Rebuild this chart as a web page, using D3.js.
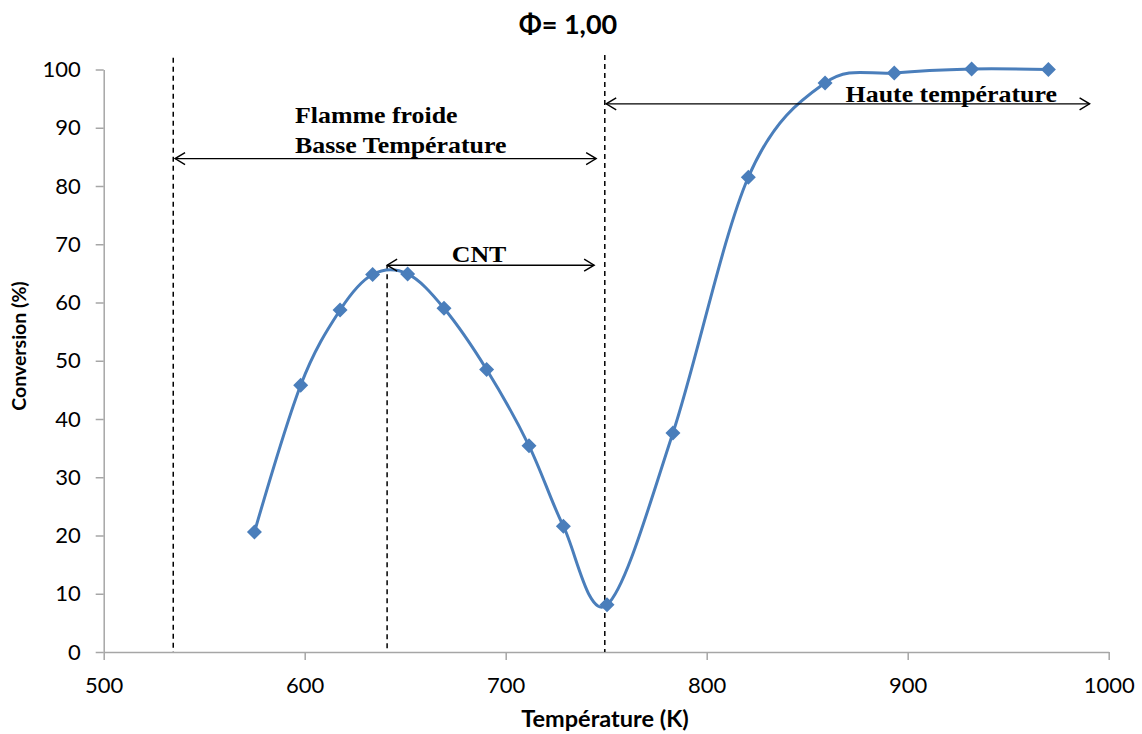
<!DOCTYPE html>
<html>
<head>
<meta charset="utf-8">
<script src="https://cdn.jsdelivr.net/npm/d3@7"></script>
<style>
  body { margin: 0; background: #fff; }
  svg { display: block; }
</style>
</head>
<body>
<svg id="chart" width="1142" height="734"></svg>
<script>
// data
var temperature = [575, 598, 617.6, 633.8, 651.2, 669.3, 690.5, 711.6, 728.7, 750.4, 783.2, 820.7, 858.9, 893.3, 931.8, 970];
var conversion = [20.6, 45.8, 58.7, 64.8, 64.9, 59.0, 48.5, 35.4, 21.6, 8.1, 37.6, 81.5, 97.7, 99.4, 100.1, 100];
var xTicks = [500, 600, 700, 800, 900, 1000];
var yTicks = [0, 10, 20, 30, 40, 50, 60, 70, 80, 90, 100];
// dashed boundaries (K) and double arrows [from, to, level]
var boundaries = [534.6, 641, 749.3];
var arrows = [
    { from: 535.5, to: 745, y: 84.7 },
    { from: 641, to: 744, y: 66.4 },
    { from: 750, to: 990.5, y: 94.1 }
];

var svg = d3.select("#chart");
var blue = "#4a7ebb";
var axisGrey = "#a6a6a6";
var sans = "Lato, 'Open Sans', sans-serif";
var serif = "'Liberation Serif', 'Times New Roman', serif";

var x = d3.scaleLinear().domain([500, 1000]).range([103.7, 1108.7]);
var y = d3.scaleLinear().domain([0, 100]).range([652, 69.5]);

// Title
svg.append("text")
    .attr("x", 568).attr("y", 34)
    .attr("text-anchor", "middle")
    .style("font-family", sans).style("font-weight", "bold").style("font-size", "27px")
    .text("Φ= 1,00");

// Axes
var xAxis = svg.append("g")
    .attr("transform", "translate(0," + y(0) + ")")
    .call(d3.axisBottom(x).tickValues(xTicks).tickFormat(d3.format("d"))
        .tickSize(8).tickSizeOuter(0).tickPadding(17));
var yAxis = svg.append("g")
    .attr("transform", "translate(" + x(500) + ",0)")
    .call(d3.axisLeft(y).tickValues(yTicks).tickSize(8).tickSizeOuter(0).tickPadding(15));

[xAxis, yAxis].forEach(function(g) {
    g.select(".domain").attr("stroke", axisGrey).attr("stroke-width", 1.5);
    g.selectAll(".tick line").attr("stroke", axisGrey).attr("stroke-width", 1.5);
    g.selectAll(".tick text")
        .attr("fill", "#000")
        .style("font-family", sans).style("font-size", "22px");
});

// Axis titles
svg.append("text")
    .attr("x", 605).attr("y", 727)
    .attr("text-anchor", "middle")
    .style("font-family", sans).style("font-weight", "bold").style("font-size", "23.5px")
    .text("Température (K)");
svg.append("text")
    .attr("transform", "translate(26,346) rotate(-90)")
    .attr("text-anchor", "middle")
    .style("font-family", sans).style("font-weight", "bold").style("font-size", "19.5px")
    .text("Conversion (%)");

// Dashed boundaries
var dashTops = [102, 66.4, 102.5];
svg.append("g").selectAll("line")
    .data(boundaries)
    .join("line")
    .attr("x1", function(d) { return x(d); })
    .attr("x2", function(d) { return x(d); })
    .attr("y1", function(d, i) { return y(dashTops[i]); })
    .attr("y2", y(0))
    .attr("stroke", "#000")
    .attr("stroke-width", 1.5)
    .attr("stroke-dasharray", "5,4");

// Curve
var pts = temperature.map(function(t, i) { return [t, conversion[i]]; });
var line = d3.line()
    .x(function(d) { return x(d[0]); })
    .y(function(d) { return y(d[1]); })
    .curve(d3.curveCardinal.tension(0));

svg.append("path")
    .datum(pts)
    .attr("d", line)
    .attr("fill", "none")
    .attr("stroke", blue)
    .attr("stroke-width", 3);

// Diamond markers
svg.append("g").selectAll("path")
    .data(pts)
    .join("path")
    .attr("transform", function(d) { return "translate(" + x(d[0]) + "," + y(d[1]) + ")"; })
    .attr("d", "M0,-7.5L7.5,0L0,7.5L-7.5,0Z")
    .attr("fill", blue);

// Double arrows
var arrowG = svg.append("g")
    .attr("stroke", "#000").attr("stroke-width", 1.4).attr("fill", "none");
arrows.forEach(function(a) {
    var x1 = x(a.from), x2 = x(a.to), yy = y(a.y);
    arrowG.append("line").attr("x1", x1).attr("x2", x2).attr("y1", yy).attr("y2", yy);
    arrowG.append("path").attr("d", "M" + (x1 + 10) + "," + (yy - 6) + "L" + x1 + "," + yy + "L" + (x1 + 10) + "," + (yy + 6));
    arrowG.append("path").attr("d", "M" + (x2 - 10) + "," + (yy - 6) + "L" + x2 + "," + yy + "L" + (x2 - 10) + "," + (yy + 6));
});

// Region labels (the source image is a bit stretched sideways)
var labels = [
    { text: "Flamme froide", x: 295, y: 123, anchor: "start" },
    { text: "Basse Température", x: 295, y: 152.5, anchor: "start" },
    { text: "CNT", x: 479, y: 261.5, anchor: "middle" },
    { text: "Haute température", x: 1057, y: 101.5, anchor: "end" }
];
svg.append("g").selectAll("text")
    .data(labels)
    .join("text")
    .attr("transform", function(d) { return "translate(" + d.x + "," + d.y + ") scale(1.15,1)"; })
    .attr("text-anchor", function(d) { return d.anchor; })
    .style("font-family", serif).style("font-weight", "bold").style("font-size", "22.5px")
    .text(function(d) { return d.text; });
</script>
</body>
</html>
